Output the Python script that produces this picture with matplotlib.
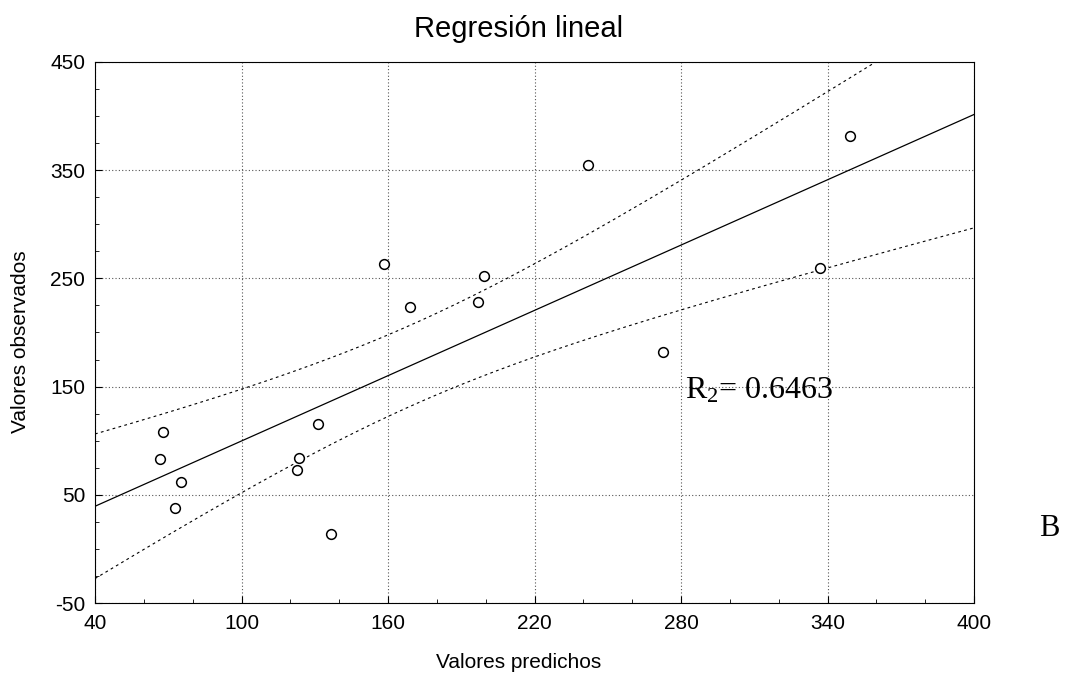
import matplotlib
matplotlib.use("Agg")
import matplotlib.pyplot as plt
import numpy as np
from matplotlib.ticker import MultipleLocator

# valores
predichos = np.array([67.8, 66.6, 75.2, 72.8, 131.3, 123.5, 122.7, 136.6,
                      158.3, 169.0, 196.8, 199.3, 241.9, 272.6, 336.9, 349.2])
observados = np.array([108, 83, 62, 38, 115, 84, 73, 14,
                       263, 224, 228, 252, 355, 182, 260, 382])
xticks = [40, 100, 160, 220, 280, 340, 400]
yticks = [-50, 50, 150, 250, 350, 450]
r2_texto = "0.6463"

plt.rcParams['font.family'] = ['Liberation Sans', 'DejaVu Sans']
plt.rcParams['axes.unicode_minus'] = False

fig = plt.figure(figsize=(10.65, 6.73), dpi=100)
ax = fig.add_axes([0.0892, 0.104, 0.8254, 0.8039])

# recta de regresion y banda de confianza 95%
b, a = np.polyfit(predichos, observados, 1)
n = len(predichos)
res = observados - (a + b * predichos)
s = np.sqrt(np.sum(res ** 2) / (n - 2))
xm = predichos.mean()
sxx = np.sum((predichos - xm) ** 2)
t = 2.1448  # t(0.975, 14)
xx = np.linspace(40, 400, 200)
yy = a + b * xx
hw = t * s * np.sqrt(1 / n + (xx - xm) ** 2 / sxx)

ax.plot(xx, yy, color='black', lw=0.9)
ax.plot(xx, yy + hw, color='black', lw=0.8, ls=(0, (2.5, 3)))
ax.plot(xx, yy - hw, color='black', lw=0.8, ls=(0, (2.5, 3)))
ax.plot(predichos, observados, 'o', ms=7, mfc='white', mec='black', mew=1.1)

ax.set_xlim(40, 400)
ax.set_ylim(-50, 450)
ax.set_xticks(xticks)
ax.set_yticks(yticks)
ax.xaxis.set_minor_locator(MultipleLocator(20))
ax.yaxis.set_minor_locator(MultipleLocator(25))
ax.tick_params(which='both', direction='in', labelsize=15)
ax.tick_params(axis='y', pad=7)
ax.tick_params(axis='x', pad=8)
ax.tick_params(which='major', length=5)
ax.tick_params(which='minor', length=3)
ax.grid(True, which='major', color='#555555', ls=(0, (1, 2)), lw=0.8)

ax.set_title("Regresión lineal", fontsize=21, pad=18, x=0.482)
ax.set_xlabel("Valores predichos", fontsize=15)
ax.xaxis.set_label_coords(0.482, -0.093)
ax.set_ylabel("Valores observados", fontsize=15)
ax.yaxis.set_label_coords(-0.074, 0.483)

ax.text(0.671, 0.393, r"R$\mathregular{_2}$= " + r2_texto, transform=ax.transAxes,
        fontsize=23, family='Liberation Serif', va='center')
fig.text(0.976, 0.215, "B", fontsize=22, family='Liberation Serif', va='center')

fig.savefig("out.png", dpi=100)
